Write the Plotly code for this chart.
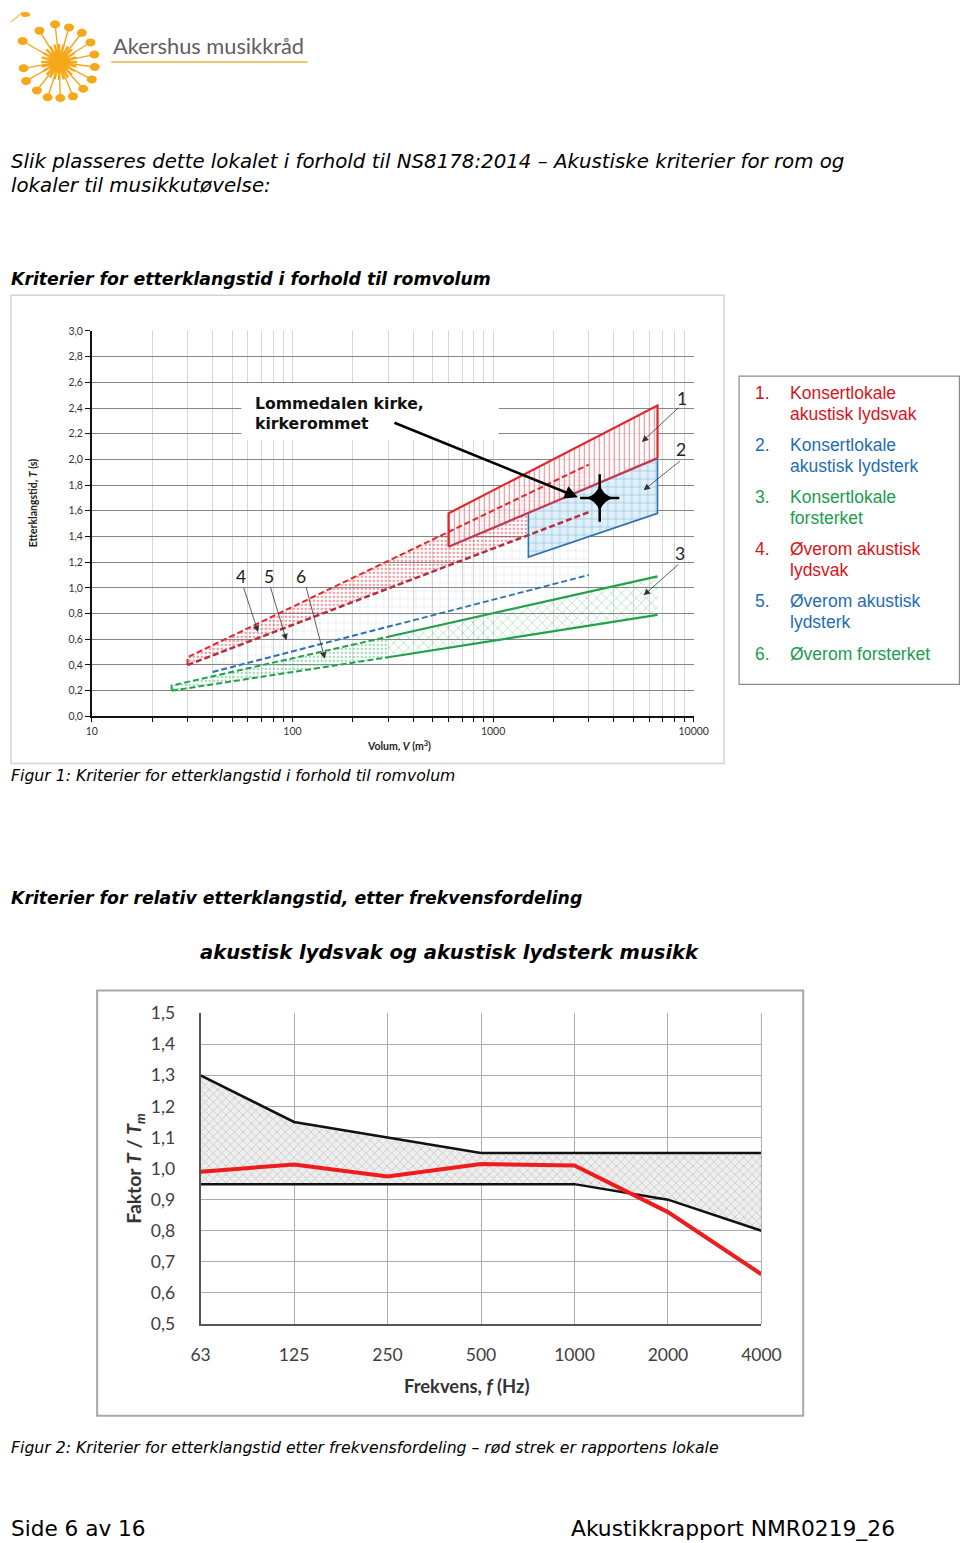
import math
import plotly.graph_objects as go

# Layout positions below are given in the coordinates of the final 960x1543
# picture; the photographed page maps figure pixels to picture pixels as
# pic = S * fig + C (measured), so they are converted back here.
SX, CX = 0.968, 9.0
SY, CY = 0.986, 11.0
FW, FH = 982, 1556


def fx(X):
    return (X - CX) / SX


def fy(Y):
    return (Y - CY) / SY


def px(X):
    return fx(X) / FW


def py(Y):
    return 1 - fy(Y) / FH


# ---------------- Chart 1 data (volume vs reverberation time) ----------------
x1_tickvals = [10, 20, 30, 40, 50, 60, 70, 80, 90,
               100, 200, 300, 400, 500, 600, 700, 800, 900,
               1000, 2000, 3000, 4000, 5000, 6000, 7000, 8000, 9000, 10000]
x1_ticktext = ["10", "", "", "", "", "", "", "", "",
               "100", "", "", "", "", "", "", "", "",
               "1000", "", "", "", "", "", "", "", "", "10000"]
y1_tickvals = [0.0, 0.2, 0.4, 0.6, 0.8, 1.0, 1.2, 1.4, 1.6, 1.8, 2.0, 2.2, 2.4, 2.6, 2.8, 3.0]
y1_ticktext = ["0,0", "0,2", "0,4", "0,6", "0,8", "1,0", "1,2", "1,4", "1,6", "1,8",
               "2,0", "2,2", "2,4", "2,6", "2,8", "3,0"]

# band: x-range, lower boundary (start, end), upper boundary (start, end)
b1_x = [600, 6600];  b1_low = [1.32, 2.01];  b1_up = [1.58, 2.42]   # 1 Konsertlokale lydsvak
b2_x = [1500, 6600]; b2_low = [1.24, 1.58];  b2_up = [1.58, 2.01]   # 2 Konsertlokale lydsterk
b3_x = [300, 6600];  b3_low = [0.46, 0.79];  b3_up = [0.62, 1.09]   # 3 Konsertlokale forsterket
b4_x = [30, 3000];   b4_low = [0.40, 1.59];  b4_up = [0.46, 1.96]   # 4 Øverom lydsvak
b5_x = [40, 3000];   b5_low = [0.345, 1.10]; b5_up = [0.475, 1.59]  # 5 Øverom lydsterk
b6_x = [25, 300];    b6_low = [0.20, 0.46];  b6_up = [0.24, 0.62]   # 6 Øverom forsterket

star_x = [3400]
star_y = [1.70]

legend_nums = ["1.", "2.", "3.", "4.", "5.", "6."]
legend_lines = [["Konsertlokale", "akustisk lydsvak"],
                ["Konsertlokale", "akustisk lydsterk"],
                ["Konsertlokale", "forsterket"],
                ["Øverom akustisk", "lydsvak"],
                ["Øverom akustisk", "lydsterk"],
                ["Øverom forsterket"]]

# ---------------- Chart 2 data (relative reverberation vs frequency) ----------
freq_labels = ["63", "125", "250", "500", "1000", "2000", "4000"]
upper_limit = [1.30, 1.15, 1.10, 1.05, 1.05, 1.05, 1.05]
lower_limit = [0.95, 0.95, 0.95, 0.95, 0.95, 0.90, 0.80]
measured = [0.99, 1.013, 0.975, 1.015, 1.01, 0.86, 0.66]
y2_tickvals = [0.5, 0.6, 0.7, 0.8, 0.9, 1.0, 1.1, 1.2, 1.3, 1.4, 1.5]
y2_ticktext = ["0,5", "0,6", "0,7", "0,8", "0,9", "1,0", "1,1", "1,2", "1,3", "1,4", "1,5"]

RED = "#e3262b"
DRED = "#b3303f"
BLUE = "#2c72b0"
GREEN = "#22a04b"
TXT_RED = "#d8141c"
TXT_BLUE = "#1f6db3"
TXT_GREEN = "#1b9c4f"


def poly(xs, lo, up):
    return ([xs[0], xs[1], xs[1], xs[0], xs[0]],
            [lo[0], lo[1], up[1], up[0], lo[0]])


fig = go.Figure()


def band(xs, lo, up, shape, fg, bg, size, solidity):
    X, Y = poly(xs, lo, up)
    fig.add_trace(go.Scatter(
        x=X, y=Y, mode="lines", fill="toself", line=dict(width=0, color=fg),
        fillcolor="rgba(0,0,0,0)",
        fillpattern=dict(shape=shape, fgcolor=fg, bgcolor=bg, size=size, solidity=solidity),
        hoverinfo="skip", showlegend=False, xaxis="x", yaxis="y"))


def line(xs, ys, color, width, dash="solid"):
    fig.add_trace(go.Scatter(
        x=xs, y=ys, mode="lines", line=dict(color=color, width=width, dash=dash),
        hoverinfo="skip", showlegend=False, xaxis="x", yaxis="y"))


DASH = "6px,3px"
# fills (bottom to top)
band(b5_x, b5_low, b5_up, "+", "#b4c4d6", "rgba(255,255,255,0)", 8, 0.13)
band(b6_x, b6_low, b6_up, ".", "#4fb676", "rgba(255,255,255,0)", 4, 0.35)
band(b4_x, b4_low, b4_up, ".", "#d8404a", "rgba(255,255,255,0)", 4, 0.35)
band(b3_x, b3_low, b3_up, "x", "#2fa85e", "rgba(255,255,255,0)", 7, 0.16)
band(b1_x, b1_low, b1_up, "|", "#d8323c", "rgba(255,255,255,0.75)", 5, 0.25)
band(b2_x, b2_low, b2_up, "+", "#3a84be", "#e0f0f8", 8, 0.15)

# outlines
line([b6_x[0], b6_x[0], b6_x[1]], [b6_low[0], b6_up[0], b6_up[1]], GREEN, 2, DASH)
line(b6_x, b6_low, GREEN, 2, DASH)
line(b5_x, b5_low, BLUE, 2, DASH)
line([b4_x[0], b4_x[0], b4_x[1]], [b4_low[0], b4_up[0], b4_up[1]], RED, 2, DASH)
line(b4_x, b4_low, DRED, 2.5, DASH)
line(b3_x, b3_up, GREEN, 2.2)
line(b3_x, b3_low, GREEN, 2.2)
line([b2_x[0], b2_x[0], b2_x[1], b2_x[1]], [b2_up[0], b2_low[0], b2_low[1], b2_up[1]], BLUE, 1.6)
line([b1_x[0], b1_x[0], b1_x[1], b1_x[1]], [b1_low[0], b1_up[0], b1_up[1], b1_low[1]], RED, 2.2)
line(b1_x, b1_low, "#c03a55", 2.2)

# star marking the measured room (thin four-point star)
fig.add_trace(go.Scatter(x=star_x, y=star_y, mode="markers",
                         marker=dict(symbol="star-diamond", size=20, color="black"),
                         hoverinfo="skip", showlegend=False, xaxis="x", yaxis="y"))
fig.add_trace(go.Scatter(x=star_x, y=star_y, mode="markers",
                         marker=dict(symbol="line-ns-open", size=34, color="black",
                                     line=dict(color="black", width=2.5)),
                         hoverinfo="skip", showlegend=False, xaxis="x", yaxis="y"))
fig.add_trace(go.Scatter(x=star_x, y=star_y, mode="markers",
                         marker=dict(symbol="line-ew-open", size=28, color="black",
                                     line=dict(color="black", width=2.5)),
                         hoverinfo="skip", showlegend=False, xaxis="x", yaxis="y"))

# ---------------- Chart 2 traces ----------------
fig.add_trace(go.Scatter(x=freq_labels, y=lower_limit, mode="lines",
                         line=dict(color="#111111", width=2.5),
                         hoverinfo="skip", showlegend=False, xaxis="x2", yaxis="y2"))
fig.add_trace(go.Scatter(x=freq_labels, y=upper_limit, mode="lines", fill="tonexty",
                         fillcolor="rgba(0,0,0,0)",
                         fillpattern=dict(shape="x", fgcolor="#9c9c9c", bgcolor="#eeeeee",
                                          size=6, solidity=0.25),
                         line=dict(color="#111111", width=2.5),
                         hoverinfo="skip", showlegend=False, xaxis="x2", yaxis="y2"))
fig.add_trace(go.Scatter(x=freq_labels, y=measured, mode="lines",
                         line=dict(color="#ee1c1c", width=4),
                         hoverinfo="skip", showlegend=False, xaxis="x2", yaxis="y2"))

# ---------------- Layout / axes ----------------
C1_L, C1_R, C1_T, C1_B = 90.7, 691.7, 330.7, 716.0
C2_L, C2_R, C2_T, C2_B = 199.3, 759.3, 1012.7, 1323.3

fig.update_layout(
    width=FW, height=FH, margin=dict(l=0, r=0, t=0, b=0),
    paper_bgcolor="white", plot_bgcolor="white", showlegend=False,
    xaxis=dict(domain=[px(C1_L), px(C1_R)], type="log", range=[1, 4.0001],
               tickvals=x1_tickvals, ticktext=x1_ticktext,
               showgrid=True, gridcolor="#d6d6d6", gridwidth=1,
               showline=True, linecolor="#111111", linewidth=1.5,
               ticks="outside", ticklen=4, tickcolor="#111111", tickwidth=1,
               tickfont=dict(family="Lato", size=10.5, color="#333333"),
               zeroline=False, anchor="y", fixedrange=True),
    yaxis=dict(domain=[py(C1_B), py(C1_T)], range=[0, 3.0005],
               tickvals=y1_tickvals, ticktext=y1_ticktext,
               showgrid=True, gridcolor="#858585", gridwidth=1.3,
               showline=True, linecolor="#111111", linewidth=1.5,
               ticks="outside", ticklen=5, tickcolor="#111111", tickwidth=1,
               tickfont=dict(family="Lato", size=10.5, color="#333333"),
               zeroline=False, anchor="x", fixedrange=True),
    xaxis2=dict(domain=[px(C2_L), px(C2_R)], type="category",
                categoryorder="array", categoryarray=freq_labels, range=[0, 6],
                showgrid=True, gridcolor="#ababab", gridwidth=1,
                showline=True, linecolor="#555555", linewidth=2, mirror=False,
                ticks="", ticklabelstandoff=14,
                tickfont=dict(family="Lato", size=17.5, color="#404040"),
                zeroline=False, anchor="y2", fixedrange=True),
    yaxis2=dict(domain=[py(C2_B), py(C2_T)], range=[0.5, 1.5],
                tickvals=y2_tickvals, ticktext=y2_ticktext,
                showgrid=True, gridcolor="#ababab", gridwidth=1,
                showline=True, linecolor="#555555", linewidth=2,
                ticks="", ticklabelstandoff=20,
                tickfont=dict(family="Lato", size=17.5, color="#404040"),
                zeroline=False, anchor="x2", fixedrange=True),
)

shapes = []
annotations = []


def rect(x0, y0, x1, y1, **kw):
    d = dict(type="rect", xref="paper", yref="paper", x0=px(x0), x1=px(x1), y0=py(y1), y1=py(y0))
    d.update(kw)
    shapes.append(d)


def seg(x0, y0, x1, y1, color, width):
    shapes.append(dict(type="line", xref="paper", yref="paper", x0=px(x0), y0=py(y0), x1=px(x1), y1=py(y1),
                       line=dict(color=color, width=width)))


# chart frames
rect(10.0, 295, 722, 763, line=dict(color="#d4d4d4", width=1.5), fillcolor="rgba(0,0,0,0)", layer="below")
rect(96, 990, 801, 1415, line=dict(color="#a8a8a8", width=2), fillcolor="rgba(0,0,0,0)", layer="below")
seg(C2_R, C2_B, C2_R, C2_T, "#ababab", 1)
# white label box over the grid
rect(240, 383, 497, 440, line=dict(width=0), fillcolor="white", layer="above")
# legend box
rect(737, 376, 957, 684, line=dict(color="#8a8a8a", width=1.2), fillcolor="white")

# ---------------- Logo ----------------
ORANGE = "#f6a81a"
cx, cy = 58, 62
logo_rays = [(-170, 32), (-150, 34), (-128, 32), (-108, 33), (-88, 32), (-68, 33), (-48, 32),
             (-28, 33), (-8, 32), (12, 32), (32, 33), (52, 33), (74, 32), (96, 34), (122, 33), (150, 38)]
for ang, r in logo_rays:
    a = math.radians(ang)
    seg(cx, cy, cx + r * math.cos(a), cy - r * math.sin(a), ORANGE, 1.4)
    hx, hy = cx + (r + 4) * math.cos(a), cy - (r + 4) * math.sin(a)
    shapes.append(dict(type="circle", xref="paper", yref="paper", x0=px(hx - 5), x1=px(hx + 5),
                       y0=py(hy + 4), y1=py(hy - 4), fillcolor=ORANGE, line=dict(width=0)))
for k in range(24):
    a = math.radians(k * 15)
    seg(cx, cy, cx + 18 * math.cos(a), cy - 18 * math.sin(a), ORANGE, 2.4)
shapes.append(dict(type="circle", xref="paper", yref="paper", x0=px(cx - 11), x1=px(cx + 11),
                   y0=py(cy + 11), y1=py(cy - 11), fillcolor=ORANGE, line=dict(width=0)))
seg(10, 22, 22, 12, "#f3c35a", 1.4)
shapes.append(dict(type="circle", xref="paper", yref="paper", x0=px(20), x1=px(29),
                   y0=py(17), y1=py(12), fillcolor=ORANGE, line=dict(width=0)))
seg(110, 62, 306, 62, "#f4c46a", 2)


def txt(t, x, y, size, color="#000000", family="DejaVu Sans", xanchor="left", **kw):
    d = dict(text=t, x=px(x), y=py(y), xref="paper", yref="paper", xanchor=xanchor, yanchor="middle",
             showarrow=False, font=dict(family=family, size=size, color=color))
    d.update(kw)
    annotations.append(d)


txt("Akershus musikkråd", 110, 45, 21.8, color="#5f5f5f", family="Lato")

# page text
TX = 8.5
txt("<i>Slik plasseres dette lokalet i forhold til NS8178:2014 – Akustiske kriterier for rom og</i>", TX, 161, 19.8)
txt("<i>lokaler til musikkutøvelse:</i>", TX, 185, 19.8)
txt("<b><i>Kriterier for etterklangstid i forhold til romvolum</i></b>", TX, 279, 17.3)
txt("<i>Figur 1: Kriterier for etterklangstid i forhold til romvolum</i>", TX, 775, 15.7)
txt("<b><i>Kriterier for relativ etterklangstid, etter frekvensfordeling</i></b>", TX, 898, 17.3)
txt("<b><i>akustisk lydsvak og akustisk lydsterk musikk</i></b>", 197, 952, 19.5)
txt("<i>Figur 2: Kriterier for etterklangstid etter frekvensfordeling – rød strek er rapportens lokale</i>",
    TX, 1447, 15.7)
txt("Side 6 av 16", TX, 1528, 21.6)
txt("Akustikkrapport NMR0219_26", 567, 1528, 21.8)

# chart 1 axis titles
txt("<b>Etterklangstid, <i>T</i> (s)</b>", 32, 503, 10.5, color="#222222", family="Lato",
    xanchor="center", textangle=-90)
txt("<b>Volum, <i>V</i> (m<sup>3</sup>)</b>", 397, 745, 10.5, color="#222222", family="Lato", xanchor="center")

# label
txt("<b>Lommedalen kirke,<br>kirkerommet</b>", 252, 413.5, 15.7, color="#111111", align="left")


def arrow(x_tail, y_tail, x_head, y_head, width, size, color):
    annotations.append(dict(x=px(x_head), y=py(y_head), xref="paper", yref="paper",
                            ax=(x_tail - x_head) / SX, ay=(y_tail - y_head) / SY,
                            axref="pixel", ayref="pixel", text="", showarrow=True, arrowhead=2,
                            arrowsize=size, arrowwidth=width, arrowcolor=color))


arrow(397, 423, 576, 497, 2.6, 1, "#000000")

# numbered pointers
num_pts = [("1", 680, 398, 676.7, 406.7, 640, 441.7),
           ("2", 679, 449, 678.3, 460, 641.7, 490),
           ("3", 678, 553, 676.7, 563.3, 641.7, 595),
           ("4", 240, 576, 242.3, 586.7, 256.7, 631.7),
           ("5", 268, 576, 269.3, 586.7, 285, 640),
           ("6", 300, 576, 305, 586.7, 323.3, 658.3)]
for n, tx, ty, x0, y0, x1, y1 in num_pts:
    txt(n, tx, ty, 17.5, color="#222222", family="Lato", xanchor="center")
    arrow(x0, y0, x1, y1, 0.8, 1.6, "#333333")

# legend text
leg_colors = [TXT_RED, TXT_BLUE, TXT_GREEN, TXT_RED, TXT_BLUE, TXT_GREEN]
leg_y = [393, 445, 497, 549, 601, 654]
for num, lines_, col, yy in zip(legend_nums, legend_lines, leg_colors, leg_y):
    txt(num, 751, yy, 17.5, color=col, family="Liberation Sans")
    for j, ln in enumerate(lines_):
        txt(ln, 786, yy + 20.5 * j, 17.5, color=col, family="Liberation Sans")

# chart 2 axis titles
txt("<b>Frekvens, <i>f</i> (Hz)</b>", 465, 1385, 18.4, color="#333333", family="Lato", xanchor="center")
txt("<b>Faktor <i>T</i> / <i>T<sub>m</sub></i></b>", 133, 1168, 19.4, color="#333333", family="Lato",
    xanchor="center", textangle=-90)

fig.update_layout(shapes=shapes, annotations=annotations)
fig.write_html("out.html")
